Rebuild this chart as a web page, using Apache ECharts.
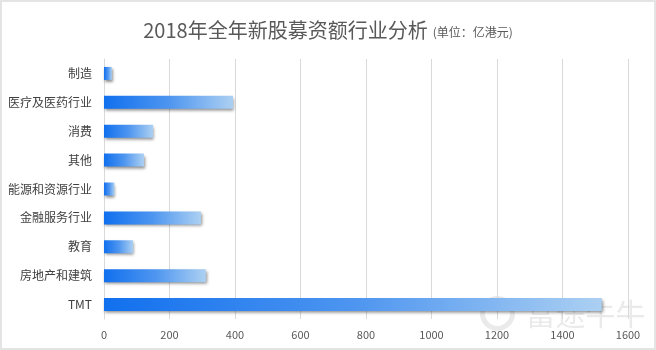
<!DOCTYPE html>
<html>
<head>
<meta charset="utf-8">
<style>
  html, body { margin: 0; padding: 0; background: #fff; }
  #chart { width: 656px; height: 350px; box-sizing: border-box; border: 2px solid #e4e4e4; }
</style>
<script src="https://cdn.jsdelivr.net/npm/echarts@6/dist/echarts.min.js"></script>
</head>
<body>
<div id="chart"></div>
<script>
// Industry categories, listed bottom to top as the category axis draws them
const categories = ['TMT', '房地产和建筑', '教育', '金融服务行业', '能源和资源行业', '其他', '消费', '医疗及医药行业', '制造'];
// IPO funds raised in 2018, 100 million HKD
const amounts = [1520, 311, 89, 296, 32, 122, 150, 394, 24];
const xTicks = { min: 0, max: 1600, interval: 200 };

const chart = echarts.init(document.getElementById('chart'), null, { renderer: 'canvas' });
const font = '"Microsoft YaHei", "Noto Sans CJK SC", sans-serif';

chart.setOption({
  animation: false,
  title: {
    left: 'center',
    top: 13,
    text: '{main|2018年全年新股募资额行业分析} {sub|(单位：亿港元)}',
    textStyle: {
      fontWeight: 'normal',
      rich: {
        main: { fontSize: 20, color: '#595959', fontFamily: font, fontWeight: 'normal' },
        sub: { fontSize: 12, color: '#595959', fontFamily: font, fontWeight: 'normal', padding: [4, 0, 0, 0] }
      }
    }
  },
  grid: { left: 102, right: 26, top: 57, bottom: 29 },
  xAxis: {
    type: 'value',
    min: xTicks.min,
    max: xTicks.max,
    interval: xTicks.interval,
    axisLine: { show: false },
    axisTick: { show: false },
    splitLine: { lineStyle: { color: '#d9d9d9', width: 1 } },
    axisLabel: { color: '#595959', fontSize: 11, fontFamily: font, margin: 10, formatter: v => String(v) }
  },
  yAxis: {
    type: 'category',
    data: categories,
    axisLine: { show: true, lineStyle: { color: '#d9d9d9' } },
    axisTick: { show: false },
    axisLabel: { color: '#404040', fontSize: 12, fontFamily: font, margin: 12 }
  },
  series: [{
    type: 'bar',
    data: amounts,
    barWidth: 13,
    itemStyle: {
      color: new echarts.graphic.LinearGradient(0, 0, 1, 0, [
        { offset: 0, color: '#1170ee' },
        { offset: 0.5, color: '#4d95f0' },
        { offset: 1, color: '#acd0f2' }
      ]),
      shadowColor: 'rgba(0,0,0,0.45)',
      shadowBlur: 3,
      shadowOffsetX: 1,
      shadowOffsetY: 2
    }
  }],
  graphic: [{
    type: 'group',
    left: 478,
    top: 294,
    z: 100,
    children: [{
      type: 'circle',
      shape: { cx: 16, cy: 17, r: 15 },
      style: { fill: 'none', stroke: 'rgba(160,160,160,0.22)', lineWidth: 5 }
    }, {
      type: 'text',
      left: 44,
      top: 2,
      style: {
        text: '富途牛牛',
        fill: 'rgba(160,160,160,0.22)',
        font: '30px "Noto Sans CJK SC", sans-serif'
      }
    }]
  }]
});
</script>
</body>
</html>
